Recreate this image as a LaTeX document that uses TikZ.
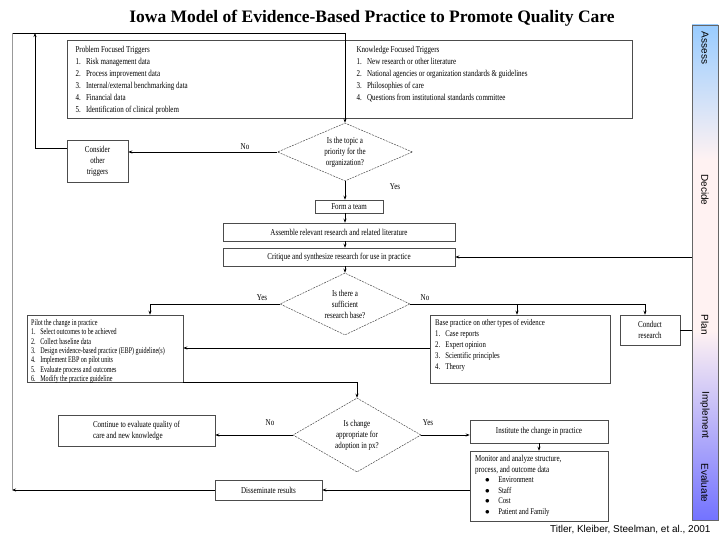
\documentclass[tikz,border=0pt]{standalone}
\usepackage{fontspec}
\setmainfont{Liberation Serif}
\newfontfamily\sansf{Liberation Sans}
\newfontfamily\condf{Liberation Serif}[FakeStretch=0.78]
\newfontfamily\condg{Liberation Serif}[FakeStretch=0.7]
\usetikzlibrary{shapes.geometric,arrows.meta}
\begin{document}
\begin{tikzpicture}[x=1pt,y=-1pt,
  box/.style={draw=black!70,line width=0.5pt,fill=white,inner sep=2pt,font=\condf\fontsize{9}{12}\selectfont},
  dia/.style={draw=black!70,line width=0.5pt,diamond,dashed,dash pattern=on 2pt off 1pt,fill=white,aspect=2.3,inner sep=0pt,align=center,font=\condf\fontsize{9}{11}\selectfont},
  lab/.style={font=\condf\fontsize{9}{12}\selectfont},
  ar/.style={-{Stealth[length=4pt,width=3pt]},line width=0.6pt},
  ln/.style={line width=0.6pt},
  side/.style={font=\sansf\fontsize{10}{10}\selectfont,rotate=-90}]
\useasboundingbox (0,0) rectangle (720,540);
\fill[white] (0,0) rectangle (720,540);
% title
\node[font=\bfseries\fontsize{17.5}{18}\selectfont] (title) at (372,18) {Iowa Model of Evidence-Based Practice to Promote Quality Care};
% triggers box
\node[box,minimum width=565pt,minimum height=78pt] (trig) at (349.5,79) {};
\node[lab,anchor=north west,align=left] (pft) at (72,43) {Problem Focused Triggers\\
1.\ \ \ Risk management data\\2.\ \ \ Process improvement data\\3.\ \ \ Internal/external benchmarking data\\4.\ \ \ Financial data\\5.\ \ \ Identification of clinical problem};
\node[lab,anchor=north west,align=left] (kft) at (353,43) {Knowledge Focused Triggers\\
1.\ \ \ New research or other literature\\2.\ \ \ National agencies or organization standards \& guidelines\\3.\ \ \ Philosophies of care\\4.\ \ \ Questions from institutional standards committee};
% diamond 1
\node[dia,minimum width=135pt,minimum height=58pt] (d1) at (345,152) {Is the topic a\\priority for the\\organization?};
\node[box,minimum width=61pt,minimum height=42pt,align=center,font=\condf\fontsize{9}{11}\selectfont] (cons) at (97.5,161) {Consider\\other\\triggers};
\coordinate (tl) at (12,33);
\coordinate (tm) at (345,33);
\coordinate (tc) at (35,33);
\draw[ln] (tl) -- (tm);
\draw[ar] (tm) -- (d1.north);
\draw[ar] (d1.west) -- (cons.east |- d1.west);
\node[lab] (no1) at (245,147) {No};
\coordinate (cl) at (35,148);
\draw[ln] (cons.west |- cl) -- (cl);
\draw[ar] (cl) -- (tc);
\node[lab] (yes1) at (395,187) {Yes};
\node[box,minimum width=68pt,minimum height=13pt] (team) at (349,206.5) {Form a team};
\node[box,minimum width=232pt,minimum height=18pt] (asm) at (339,232) {Assemble relevant research and related literature};
\node[box,minimum width=232pt,minimum height=18pt] (crit) at (339,257) {Critique and synthesize research for use in practice};
\draw[ar] (d1.south) -- (team.north -| d1.south);
\draw[ar] (team.south -| d1.south) -- (asm.north -| d1.south);
\draw[ar] (asm.south -| d1.south) -- (crit.north -| d1.south);
% diamond 2
\node[dia,minimum width=130pt,minimum height=62pt] (d2) at (345,304) {Is there a\\sufficient\\research base?};
\draw[ar] (crit.south -| d2.north) -- (d2.north);
\node[box,minimum width=156pt,minimum height=67pt] (pilot) at (105,348.5) {};
\node[anchor=north west,align=left,inner sep=0pt,font=\condg\fontsize{8.7}{9.4}\selectfont] (pilt) at (31,319) {Pilot the change in practice\\
1.\ \ \ Select outcomes to be achieved\\2.\ \ \ Collect baseline data\\3.\ \ \ Design evidence-based practice (EBP) guideline(s)\\4.\ \ \ Implement EBP on pilot units\\5.\ \ \ Evaluate process and outcomes\\6.\ \ \ Modify the practice guideline};
\node[box,minimum width=180pt,minimum height=68pt] (base) at (520,349) {};
\node[anchor=north west,align=left,inner sep=0pt,font=\condf\fontsize{8.7}{11}\selectfont] (baset) at (435,319) {Base practice on other types of evidence\\
1.\ \ \ Case reports\\2.\ \ \ Expert opinion\\3.\ \ \ Scientific principles\\4.\ \ \ Theory};
\node[box,minimum width=60pt,minimum height=30pt,align=center,font=\condf\fontsize{9}{11}\selectfont] (cond) at (650,330) {Conduct\\research};
\coordinate (yl) at (150,304);
\coordinate (nr) at (645,304);
\coordinate (nb) at (517,304);
\draw[ln] (d2.west) -- (yl);
\draw[ar] (yl) -- (pilot.north -| yl);
\draw[ln] (d2.east) -- (nr);
\draw[ar] (nb) -- (base.north -| nb);
\draw[ar] (nr) -- (cond.north -| nr);
\node[lab] (yes2) at (262,298) {Yes};
\node[lab] (no2) at (425,298) {No};
\draw[ar,line width=1pt] (base.west |- 0,348) -- (pilot.east |- 0,348);
\coordinate (cr1) at (700,330);
\coordinate (cr2) at (700,257);
\draw[ln] (cond.east) -- (cr1) -- (cr2);
\draw[ar] (cr2) -- (crit.east);
% diamond 3
\node[dia,minimum width=128pt,minimum height=74pt] (d3) at (357,435) {Is change\\appropriate for\\adoption in px?};
\coordinate (pb) at (357,382);
\draw[ln] (pilot.east |- pb) -- (pb);
\draw[ar] (pb) -- (d3.north);
\node[box,minimum width=157pt,minimum height=31pt,align=left,font=\condf\fontsize{9}{11}\selectfont] (cont) at (136.5,430.5) {Continue to evaluate quality of\\care and new knowledge};
\draw[ar,line width=1pt] (d3.west) -- (cont.east |- d3.west);
\node[lab] (no3) at (270,423) {No};
\node[lab] (yes3) at (428,423) {Yes};
\node[box,minimum width=138pt,minimum height=23pt] (inst) at (539,431.5) {Institute the change in practice};
\draw[ar,line width=1pt] (d3.east) -- (inst.west |- d3.east);
\node[box,minimum width=138pt,minimum height=70pt] (mon) at (539,486) {};
\node[anchor=north west,align=left,inner sep=0pt,font=\condf\fontsize{9}{11}\selectfont] (mont) at (475,455) {Monitor and analyze structure,\\process, and outcome data};
\node[anchor=north west,align=left,inner sep=0pt,font=\condf\fontsize{8.7}{10.5}\selectfont] (monl) at (485,477) {$\bullet$\ \ \ \ \ Environment\\$\bullet$\ \ \ \ \ Staff\\$\bullet$\ \ \ \ \ Cost\\$\bullet$\ \ \ \ \ Patient and Family};
\draw[ar] (inst.south) -- (mon.north);
\node[box,minimum width=107pt,minimum height=20pt] (diss) at (268.5,490) {Disseminate results};
\draw[ar] (mon.west |- diss) -- (diss.east);
\coordinate (dl) at (12,490);
\draw[ar] (diss.west) -- (dl);
\draw[ln,black!40] (dl) -- (tl);
% side bar
\shade[top color=blue!50!cyan!40!white,bottom color=pink!20] (692,25) rectangle (718,160);
\fill[pink!20] (692,160) rectangle (718,330);
\shade[top color=pink!20,bottom color=blue!55!white] (692,330) rectangle (718,520);
\draw[black!60,line width=0.4pt] (692,25) rectangle (718,520);
\node[side] at (705,48) {Assess};
\node[side] at (705,190) {Decide};
\node[side] at (705,325) {Plan};
\node[side] at (705,415) {Implement};
\node[side] at (705,483) {Evaluate};
\node[font=\sansf\fontsize{10}{10}\selectfont,anchor=east] (cite) at (714,530) {Titler, Kleiber, Steelman, et al., 2001};
\end{tikzpicture}
\end{document}
